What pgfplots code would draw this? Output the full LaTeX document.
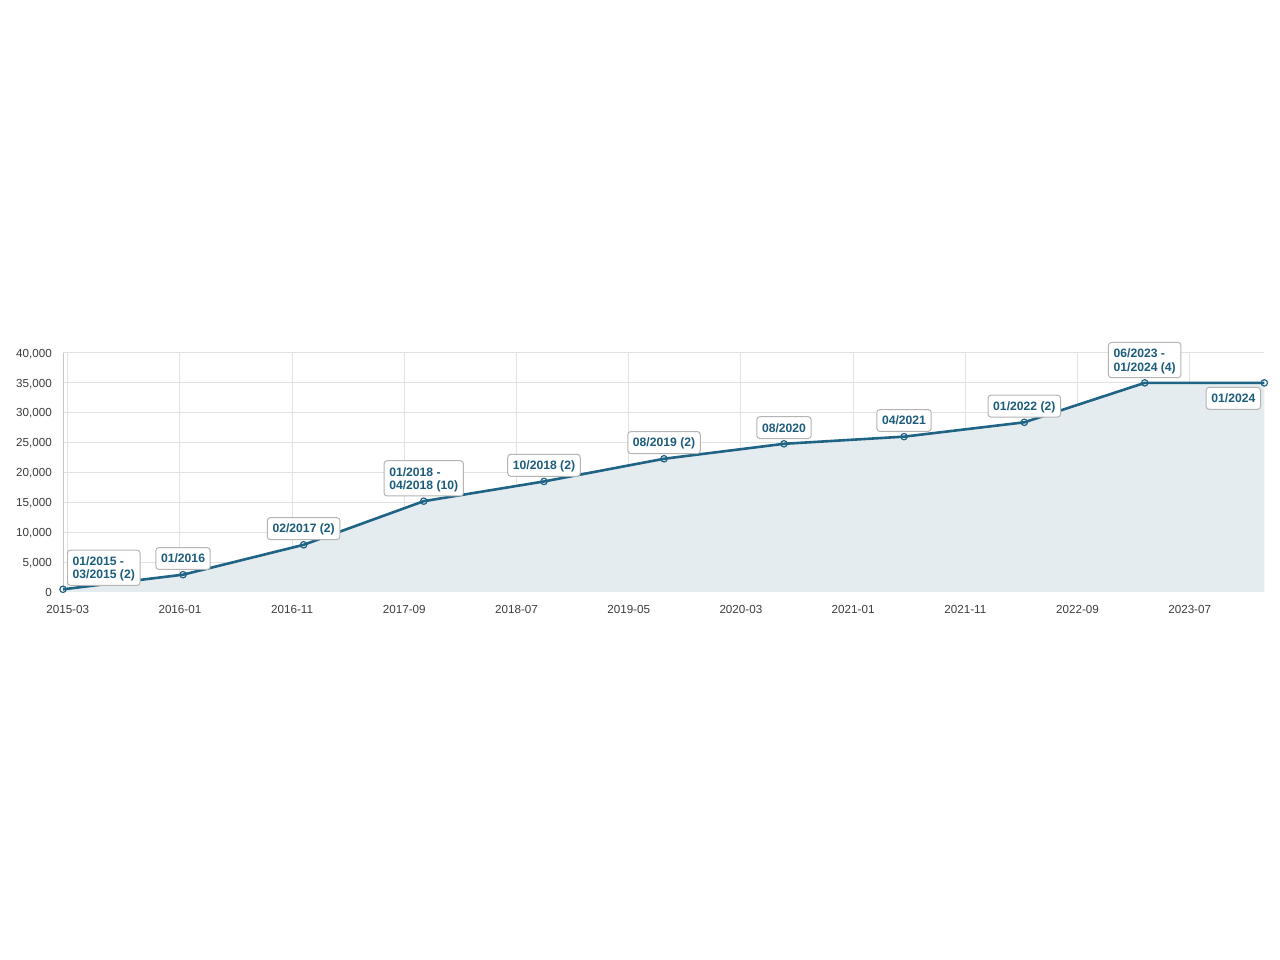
\documentclass[border=0pt]{standalone}
\usepackage{fontspec}
\setmainfont{Liberation Sans}
\usepackage{pgfplots}
\pgfplotsset{compat=1.18}
\definecolor{linec}{RGB}{31,99,133}
\definecolor{fillc}{RGB}{229,236,240}
\definecolor{labc}{RGB}{28,92,124}
\definecolor{gridc}{RGB}{226,226,226}
\definecolor{axc}{RGB}{200,200,200}
\definecolor{bordc}{RGB}{180,180,180}
\definecolor{tickc}{RGB}{60,60,60}
\newcommand\two[2]{\vtop{\hbox{#1}\hbox{#2}}}
\begin{document}
\begin{tikzpicture}
\useasboundingbox (0,0) rectangle (640bp,480bp);
\tikzset{lbl/.style={draw=bordc, line width=0.5bp, rounded corners=1.5bp, fill=white,
  text=labc, font=\fontsize{6.1}{6.67}\bfseries\selectfont, inner xsep=2.6bp, inner ysep=3.3bp,
  text height=4.37bp, text depth=0pt},
  lbl2/.style={lbl, text depth=6.67bp}}
\begin{axis}[
  at={(31.5bp,184bp)}, anchor=south west,
  scale only axis, width=600.65bp, height=119.5bp,
  xmin=1.58, xmax=108.65, ymin=0, ymax=40000,
  clip=false,
  scaled y ticks=false, scaled x ticks=false,
  axis x line*=bottom, axis y line*=left,
  axis line style={-, draw=axc, line width=0.5bp},
  xtick={2,12,22,32,42,52,62,72,82,92,102},
  xticklabels={2015-03,2016-01,2016-11,2017-09,2018-07,2019-05,2020-03,2021-01,2021-11,2022-09,2023-07},
  ytick={0,5000,10000,15000,20000,25000,30000,35000,40000},
  yticklabels={0,{5,000},{10,000},{15,000},{20,000},{25,000},{30,000},{35,000},{40,000}},
  major tick length=0pt, tick style={draw=none},
  grid=major, major grid style={draw=gridc, line width=0.5bp},
  /pgf/number format/assume math mode=true,
  ticklabel style={font=\fontsize{5.85}{7}\selectfont, text=tickc, inner sep=0pt},
  xticklabel style={anchor=base, yshift=-11bp},
  yticklabel style={anchor=east, text height=4.15bp, text depth=0pt, xshift=-5.35bp},
]
\addplot[fill=fillc, draw=none] coordinates {
 (1.58,450) (12.28,2900) (23.03,7900) (33.73,15200) (44.45,18500) (55.15,22300)
 (65.84,24800) (76.54,26000) (87.26,28400) (97.99,35000) (108.65,35000)} \closedcycle;
\addplot[draw=linec, line width=1.3bp, mark=o, mark size=1.6bp,
  mark options={line width=0.6bp, fill=white, draw=linec}] coordinates {
 (1.58,450) (12.28,2900) (23.03,7900) (33.73,15200) (44.45,18500) (55.15,22300)
 (65.84,24800) (76.54,26000) (87.26,28400) (97.99,35000) (108.65,35000)};
\node[lbl2, anchor=south west, xshift=2bp, yshift=1.7bp] at (axis cs:1.58,450) {\two{01/2015 -}{03/2015 (2)}};
\node[lbl, anchor=south, yshift=2.35bp] at (axis cs:12.28,2900) {01/2016};
\node[lbl, anchor=south, yshift=2.35bp] at (axis cs:23.03,7900) {02/2017 (2)};
\node[lbl2, anchor=south, yshift=2.35bp] at (axis cs:33.73,15200) {\two{01/2018 -}{04/2018 (10)}};
\node[lbl, anchor=south, yshift=2.35bp] at (axis cs:44.45,18500) {10/2018 (2)};
\node[lbl, anchor=south, yshift=2.35bp] at (axis cs:55.15,22300) {08/2019 (2)};
\node[lbl, anchor=south, yshift=2.35bp] at (axis cs:65.84,24800) {08/2020};
\node[lbl, anchor=south, yshift=2.35bp] at (axis cs:76.54,26000) {04/2021};
\node[lbl, anchor=south, yshift=2.35bp] at (axis cs:87.26,28400) {01/2022 (2)};
\node[lbl2, anchor=south, yshift=2.35bp] at (axis cs:97.99,35000) {\two{06/2023 -}{01/2024 (4)}};
\node[lbl, anchor=north east, xshift=-1.65bp, yshift=-2bp] at (axis cs:108.65,35000) {01/2024};
\end{axis}
\end{tikzpicture}
\end{document}
